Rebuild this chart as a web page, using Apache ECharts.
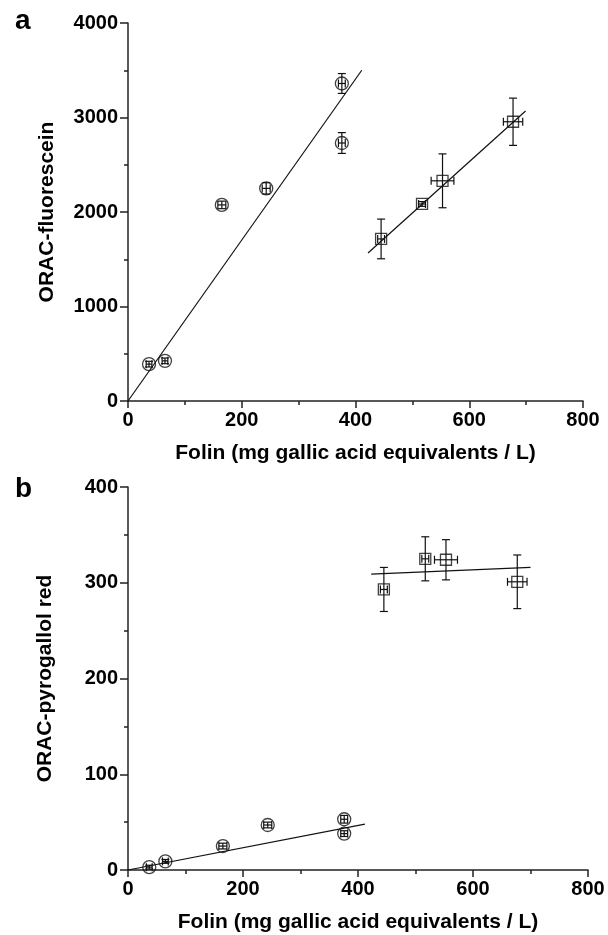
<!DOCTYPE html>
<html>
<head>
<meta charset="utf-8">
<script src="https://cdn.jsdelivr.net/npm/echarts@6/dist/echarts.min.js"></script>
<style>
  html, body { margin: 0; padding: 0; background: #fff; }
  #chart { width: 608px; height: 935px; }
</style>
</head>
<body>
<div id="chart"></div>
<script>
// Folin values (x) shared by both panels
const circleX = [37, 65, 165, 243, 376, 376]
const circleXErr = [5, 5, 7, 7, 6, 6]
const squareX = [445, 517, 553, 677]
const squareXErr = [6, 6, 20, 17]

// panel a: ORAC-fluorescein
const circleYA = [390, 425, 2075, 2250, 3360, 2730]
const circleYErrA = [30, 30, 40, 60, 105, 110]
const squareYA = [1715, 2085, 2330, 2955]
const squareYErrA = [210, 25, 285, 250]
const fitCircleA = [[0, 0], [411, 3500]]
const fitSquareA = [[422, 1566], [699, 3069]]

// panel b: ORAC-pyrogallol red
const circleYB = [3, 9, 25, 47, 53, 38]
const circleYErrB = [2, 2, 3, 3, 4, 3]
const squareYB = [293, 325, 324, 301]
const squareYErrB = [23, 23, 21, 28]
const fitCircleB = [[0, 0], [412, 48]]
const fitSquareB = [[423, 309], [700, 316]]

const xTicks = [0, 200, 400, 600, 800]

const FONT = 'Liberation Sans, Arial, sans-serif'

function points(xs, ys, xe, ye) {
  return xs.map((x, i) => [x, ys[i], xe[i], ye[i]])
}

// error bars with caps, drawn through the axis scales
function renderErr(params, api) {
  const x = api.value(0), y = api.value(1)
  const xe = api.value(2), ye = api.value(3)
  const top = api.coord([x, y + ye])
  const bot = api.coord([x, y - ye])
  const lft = api.coord([x - xe, y])
  const rgt = api.coord([x + xe, y])
  const cap = 4
  const st = { stroke: '#111', lineWidth: 1.2 }
  const line = (x1, y1, x2, y2) => ({ type: 'line', shape: { x1, y1, x2, y2 }, style: st })
  return {
    type: 'group',
    children: [
      line(top[0], top[1], bot[0], bot[1]),
      line(top[0] - cap, top[1], top[0] + cap, top[1]),
      line(bot[0] - cap, bot[1], bot[0] + cap, bot[1]),
      line(lft[0], lft[1], rgt[0], rgt[1]),
      line(lft[0], lft[1] - cap, lft[0], lft[1] + cap),
      line(rgt[0], rgt[1] - cap, rgt[0], rgt[1] + cap)
    ]
  }
}

function xAxisFor(gridIndex) {
  return {
    gridIndex,
    type: 'value',
    min: 0, max: 800, interval: 200,
    name: 'Folin (mg gallic acid equivalents / L)',
    nameLocation: 'middle',
    nameGap: 42,
    nameTextStyle: { color: '#000', fontSize: 21, fontWeight: 'bold', fontFamily: FONT },
    axisLine: { show: true, onZero: false, lineStyle: { color: '#222', width: 1.5 } },
    axisTick: { show: true, inside: false, length: 7, lineStyle: { color: '#222', width: 1.5 } },
    minorTick: { show: true, splitNumber: 2, length: 4, lineStyle: { color: '#222', width: 1.5 } },
    axisLabel: { color: '#000', fontSize: 20, fontWeight: 'bold', fontFamily: FONT, margin: 9,
      formatter: v => xTicks.includes(v) ? String(v) : '' },
    splitLine: { show: false }
  }
}

function yAxisFor(gridIndex, max, interval, name, gap) {
  return {
    gridIndex,
    type: 'value',
    min: 0, max, interval,
    name,
    nameLocation: 'middle',
    nameGap: gap,
    nameTextStyle: { color: '#000', fontSize: 21, fontWeight: 'bold', fontFamily: FONT },
    axisLine: { show: true, onZero: false, lineStyle: { color: '#222', width: 1.5 } },
    axisTick: { show: true, inside: false, length: 8, lineStyle: { color: '#222', width: 1.5 } },
    minorTick: { show: true, splitNumber: 2, length: 4, lineStyle: { color: '#222', width: 1.5 } },
    axisLabel: { color: '#000', fontSize: 20, fontWeight: 'bold', fontFamily: FONT, margin: 10,
      formatter: v => String(v) },
    splitLine: { show: false }
  }
}

function markSeries(xi, yi, data, symbol, size) {
  return {
    type: 'scatter', xAxisIndex: xi, yAxisIndex: yi,
    data: data.map(d => [d[0], d[1]]),
    symbol, symbolSize: size,
    itemStyle: { color: 'rgba(0,0,0,0)', borderColor: '#111', borderWidth: 1.3 },
    z: 4, silent: true
  }
}

function errSeries(xi, yi, data) {
  return {
    type: 'custom', xAxisIndex: xi, yAxisIndex: yi,
    data, renderItem: renderErr,
    encode: { x: 0, y: 1 }, z: 3, silent: true
  }
}

function fitSeries(xi, yi, data) {
  return {
    type: 'line', xAxisIndex: xi, yAxisIndex: yi,
    data, symbol: 'none', silent: true,
    lineStyle: { color: '#111', width: 1.2 }, z: 2
  }
}

const circA = points(circleX, circleYA, circleXErr, circleYErrA)
const sqA = points(squareX, squareYA, squareXErr, squareYErrA)
const circB = points(circleX, circleYB, circleXErr, circleYErrB)
const sqB = points(squareX, squareYB, squareXErr, squareYErrB)

const chart = echarts.init(document.getElementById('chart'), null, { renderer: 'canvas' })

chart.setOption({
  animation: false,
  backgroundColor: '#fff',
  title: [
    { text: 'a', left: 10, top: 2, textStyle: { fontSize: 28, fontWeight: 'bold', color: '#000', fontFamily: FONT } },
    { text: 'b', left: 10, top: 470, textStyle: { fontSize: 28, fontWeight: 'bold', color: '#000', fontFamily: FONT } }
  ],
  grid: [
    { left: 128, top: 23, width: 455, height: 378 },
    { left: 128, top: 487, width: 460, height: 383 }
  ],
  xAxis: [xAxisFor(0), xAxisFor(1)],
  yAxis: [
    yAxisFor(0, 4000, 1000, 'ORAC-fluorescein', 70),
    yAxisFor(1, 400, 100, 'ORAC-pyrogallol red', 72)
  ],
  series: [
    fitSeries(0, 0, fitCircleA),
    fitSeries(0, 0, fitSquareA),
    errSeries(0, 0, circA),
    errSeries(0, 0, sqA),
    markSeries(0, 0, circA, 'circle', 13),
    markSeries(0, 0, sqA, 'rect', 11),

    fitSeries(1, 1, fitCircleB),
    fitSeries(1, 1, fitSquareB),
    errSeries(1, 1, circB),
    errSeries(1, 1, sqB),
    markSeries(1, 1, circB, 'circle', 13),
    markSeries(1, 1, sqB, 'rect', 11)
  ]
})
</script>
</body>
</html>
